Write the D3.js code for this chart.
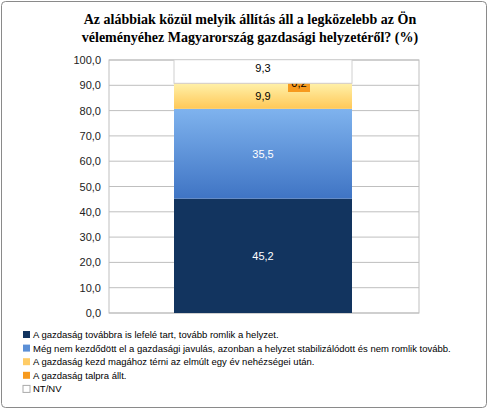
<!DOCTYPE html><html><head><meta charset="utf-8"><script src="https://cdn.jsdelivr.net/npm/d3@7"></script>
<style>body{margin:0;background:#fff}</style></head><body><svg id="c" width="488" height="409"></svg>
<script>
const categories=["A gazdaság továbbra is lefelé tart, tovább romlik a helyzet.","Még nem kezdődött  el a gazdasági javulás, azonban a helyzet stabilizálódott és nem romlik tovább.","A gazdaság kezd magához térni az elmúlt egy év nehézségei után.","A gazdaság talpra állt.","NT/NV"];
const values=[45.2,35.5,9.9,0.2,9.3];
const labels=["45,2","35,5","9,9","0,2","9,3"];
const ticks=[0,10,20,30,40,50,60,70,80,90,100];
const colors=["#12345f","#5b8fd6","#ffcc66","#f79a1e","#ffffff"];
const svg=d3.select("#c");
const defs=svg.append("defs");
const grads=[["#1d4a7c","#0f2f58"],["#7fb3ee","#3f74c4"],["#fff0a8","#ffc857"],["#ffb040","#f08c00"],["#ffffff","#ffffff"]];
grads.forEach((g,i)=>{const lg=defs.append("linearGradient").attr("id","g"+i).attr("x1",0).attr("x2",0).attr("y1",0).attr("y2",1);lg.append("stop").attr("offset","0").attr("stop-color",g[0]);lg.append("stop").attr("offset","1").attr("stop-color",g[1]);});
svg.append("rect").attr("x",1.5).attr("y",1.5).attr("width",485).attr("height",406).attr("rx",4).attr("fill","#fff").attr("stroke","#8a8a8a");
svg.append("text").attr("x",250).attr("y",24).attr("text-anchor","middle").attr("font-family","Liberation Serif").attr("font-weight","bold").attr("font-size",14).text("Az alábbiak közül melyik állítás áll a legközelebb az Ön");
svg.append("text").attr("x",250).attr("y",42).attr("text-anchor","middle").attr("font-family","Liberation Serif").attr("font-weight","bold").attr("font-size",14).text("véleményéhez Magyarország gazdasági helyzetéről?  (%)");
const y=d3.scaleLinear().domain([0,100]).range([313,60]);
const x0=109,x1=419;
const g=svg.append("g");
ticks.forEach(t=>{g.append("line").attr("x1",x0).attr("x2",x1).attr("y1",y(t)).attr("y2",y(t)).attr("stroke","#bfbfbf");});
g.append("rect").attr("x",x0).attr("y",y(100)).attr("width",x1-x0).attr("height",y(0)-y(100)).attr("fill","none").attr("stroke","#bfbfbf");
const ax=svg.append("g").attr("transform",`translate(${x0},0)`).call(d3.axisLeft(y).tickValues(ticks).tickSize(0).tickPadding(8).tickFormat(d=>d.toFixed(1).replace(".",",")));
ax.select(".domain").remove();
ax.selectAll("text").attr("font-family","Liberation Sans").attr("font-size",11).attr("fill","#222");
const bx=174,bw=178;
let cum=0;
values.forEach((v,i)=>{
 const top=y(cum+v),bot=y(cum);
 svg.append("rect").attr("x",bx).attr("y",top).attr("width",bw).attr("height",Math.max(bot-top,0.5)).attr("fill",i===0?colors[0]:"url(#g"+i+")").attr("stroke",i===4?"#d0d0d0":"none");
 const mid=(top+bot)/2;
 if(i===3){
  svg.append("rect").attr("x",288).attr("y",74).attr("width",22).attr("height",18).attr("fill","#f79a1e");
  svg.append("text").attr("x",299).attr("y",87).attr("text-anchor","middle").attr("font-family","Liberation Sans").attr("font-size",11).attr("fill","#000").text(labels[i]);
 } else {
  svg.append("text").attr("x",bx+bw/2).attr("y",(i===4?72:mid+4)).attr("text-anchor","middle").attr("font-family","Liberation Sans").attr("font-size",11).attr("fill",i<2?"#fff":"#000").text(labels[i]);
 }
 cum+=v;
});
categories.forEach((c,i)=>{
 const yy=338+i*13.6;
 svg.append("rect").attr("x",23).attr("y",yy-7).attr("width",7).attr("height",7).attr("fill",colors[i]).attr("stroke",i===4?"#aaa":"none");
 svg.append("text").attr("x",33).attr("y",yy).attr("font-family","Liberation Sans").attr("font-size",9.5).attr("fill","#000").text(c);
});
</script></body></html>
